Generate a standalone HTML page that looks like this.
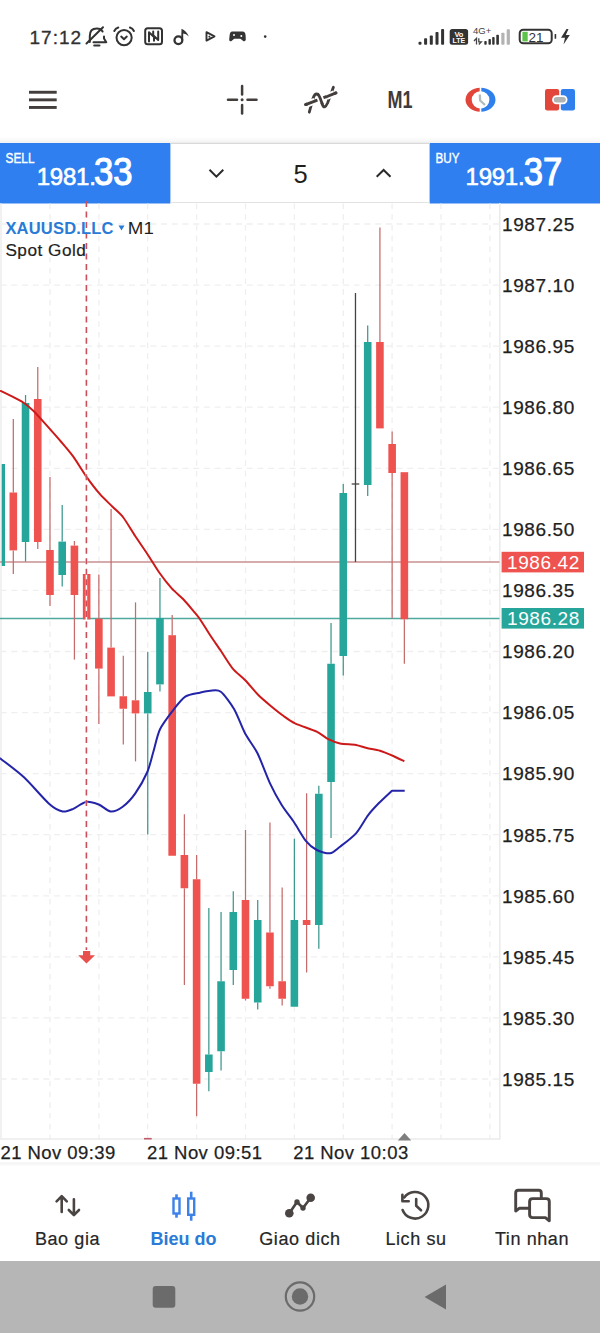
<!DOCTYPE html>
<html><head><meta charset="utf-8">
<style>
html,body{margin:0;padding:0;}
body{width:600px;height:1333px;position:relative;overflow:hidden;background:#fff;font-family:"Liberation Sans",sans-serif;}
svg{position:absolute;left:0;top:0;}
.pl{font-size:19px;fill:#1f1f1f;stroke:#1f1f1f;stroke-width:0.25px;letter-spacing:0.6px;}
.t{position:absolute;white-space:nowrap;line-height:1;}
</style></head><body>
<svg width="600" height="1333" viewBox="0 0 600 1333">
<!-- status bar -->
<text x="29.5" y="44.4" font-size="19" fill="#303030" stroke="#303030" stroke-width="0.3" letter-spacing="1">17:12</text>
<!-- toolbar -->
<g fill="#433d3c">
<rect x="29" y="90.8" width="27.7" height="2.9"/>
<rect x="29" y="98.4" width="27.7" height="2.9"/>
<rect x="29" y="106" width="27.7" height="2.9"/>
</g>
<g stroke="#433d3c" stroke-width="2.5" stroke-linecap="round">
<line x1="242.1" y1="86" x2="242.1" y2="94.5"/>
<line x1="242.1" y1="105" x2="242.1" y2="113.5"/>
<line x1="228" y1="99.8" x2="237" y2="99.8"/>
<line x1="247.5" y1="99.8" x2="256.5" y2="99.8"/>
</g>
<circle cx="242.1" cy="99.8" r="1.5" fill="#433d3c"/>
<text x="387.5" y="107.6" font-size="23.8" font-weight="bold" fill="#3f3b3a" textLength="25" lengthAdjust="spacingAndGlyphs">M1</text>

<!-- status icons -->
<g fill="none" stroke="#333" stroke-width="2" stroke-linecap="round" stroke-linejoin="round">
<path d="M89.8,42 L89.8,36 Q89.8,28.6 96.8,28.6 Q101,28.6 102.6,31.5"/>
<path d="M104,36.5 L104,38.5 L106.3,42.2 L93.5,42.2"/>
<line x1="86.5" y1="43.5" x2="103" y2="27.3"/>
<line x1="94.2" y1="45.4" x2="99.5" y2="45.4"/>
<circle cx="124.1" cy="37.6" r="7.6"/>
<path d="M114.3,31 Q115.5,28.3 118.3,27.5"/>
<path d="M129.9,27.5 Q132.7,28.3 133.9,31"/>
<polyline points="121.2,36.6 124,39.2 126.8,36.6"/>
<rect x="145.2" y="28.2" width="16.8" height="16" rx="2.5"/>
<path d="M149,41.5 L149,32.3 L154,37 L154,40.8 M153.2,31.5 L153.2,35.2 L158.2,40 L158.2,31.5"/>
</g>
<circle cx="178.4" cy="40.2" r="3.9" fill="none" stroke="#333" stroke-width="2.3"/>
<path d="M181.2,40 L181.5,28.8 Q186.5,31 188.8,36.5 Q186,33.5 183.2,33.5 L183.2,40 Z" fill="#333"/>
<path d="M206.5,32.2 L214.5,36.3 L206.5,40.6 Z M208.6,37 L210.2,36.3" fill="none" stroke="#333" stroke-width="1.9" stroke-linejoin="round"/>
<path d="M232.2,31.6 L242.5,31.6 Q245.4,31.8 245.6,35.5 L245.8,39.6 Q245.5,41.8 243.5,41.2 L240.5,38.7 L234.2,38.7 L231.2,41.2 Q229,41.8 229.2,39.6 L229.6,35.5 Q229.9,31.8 232.2,31.6 Z" fill="#333"/>
<circle cx="234" cy="35" r="1" fill="#fff"/><circle cx="241.3" cy="36" r="1" fill="#fff"/>
<circle cx="265.2" cy="36.6" r="1.3" fill="#333"/>
<g fill="#333">
<rect x="418.5" y="41.8" width="3" height="3" rx="1"/>
<rect x="424.1" y="38.3" width="3" height="6.5" rx="0.8"/>
<rect x="429.8" y="35.5" width="3" height="9.3" rx="0.8"/>
<rect x="435.5" y="31.9" width="3" height="12.9" rx="0.8"/>
<rect x="441.1" y="29.1" width="3" height="15.7" rx="0.8"/>
<rect x="449.7" y="29" width="18.4" height="15.7" rx="2.5"/>
<rect x="484.3" y="41" width="2.4" height="3.7" rx="0.8"/>
<rect x="488.5" y="39" width="2.4" height="5.7" rx="0.8"/>
<rect x="492.2" y="36.9" width="2.4" height="7.8" rx="0.8"/>
<rect x="496.3" y="34.7" width="2.6" height="10" rx="0.8"/>
</g>
<g fill="#b3b3b3">
<rect x="501.3" y="32.7" width="3.2" height="12" rx="0.8"/>
<rect x="506.7" y="29.3" width="3.2" height="15.4" rx="0.8"/>
</g>
<text x="458.9" y="36.5" font-size="7.5" font-weight="bold" fill="#fff" text-anchor="middle">Vo</text>
<text x="458.9" y="43.3" font-size="7" font-weight="bold" fill="#fff" text-anchor="middle">LTE</text>
<text x="473" y="34.2" font-size="9.5" fill="#444">4G+</text>
<path d="M474,41 L476.5,38.3 L476.5,44.5 M478.8,44.5 L481.3,41.8 L478.8,41.8 L478.8,38.3" fill="none" stroke="#444" stroke-width="1.3"/>
<rect x="519.7" y="29.7" width="32" height="13.6" rx="3.5" fill="none" stroke="#333" stroke-width="2"/>
<rect x="522.4" y="31.8" width="5.3" height="9.6" fill="#5cc24a"/>
<text x="528.5" y="41.8" font-size="13.5" fill="#333">21</text>
<rect x="554.6" y="34" width="1.6" height="4.8" rx="0.5" fill="#333"/>
<path d="M566.5,29 L561,37.8 L565,37.8 L563.5,44.5 L569.8,35 L565.8,35 L568.5,29 Z" fill="#333"/>
<!-- indicator icon -->
<g fill="none" stroke-linecap="butt">
<path d="M309.3,112.2 L313,98.5 Q316.2,89.5 320.3,98.5 L322.4,104.5 Q324.3,110 327.6,103 L333.4,87.2" stroke="#433d3c" stroke-width="2.8" stroke-linecap="round"/>
<line x1="305.6" y1="104.6" x2="336" y2="92.9" stroke="#433d3c" stroke-width="2.8" stroke-linecap="round"/>
<line x1="307.5" y1="103.9" x2="314.8" y2="101.1" stroke="#fff" stroke-width="6.5"/>
<line x1="305.6" y1="104.6" x2="314.8" y2="101.1" stroke="#433d3c" stroke-width="2.8" stroke-linecap="round"/>
<line x1="326.5" y1="96.7" x2="334.2" y2="93.6" stroke="#fff" stroke-width="6.5"/>
<line x1="326.5" y1="96.7" x2="336" y2="92.9" stroke="#433d3c" stroke-width="2.8" stroke-linecap="round"/>
<path d="M318.6,95.2 Q319.6,96.5 320.3,98.5 L321.8,102.8" stroke="#fff" stroke-width="6.5"/>
<path d="M317.5,93.6 Q319.2,95.5 320.3,98.5 L322.4,104.5" stroke="#433d3c" stroke-width="2.8"/>
</g>
<!-- clock icon -->
<defs>
<clipPath id="cl"><rect x="460" y="80" width="19.7" height="40"/></clipPath>
<clipPath id="cr"><rect x="481.3" y="80" width="19.7" height="40"/></clipPath>
</defs>
<path d="M465.5,99.8 a15,12 0 1,0 30,0 a15,12 0 1,0 -30,0 Z M471.7,99.8 a8.85,8.6 0 1,0 17.7,0 a8.85,8.6 0 1,0 -17.7,0 Z" fill="#e2453a" fill-rule="evenodd" clip-path="url(#cl)"/>
<path d="M465.5,99.8 a15,12 0 1,0 30,0 a15,12 0 1,0 -30,0 Z M471.7,99.8 a8.85,8.6 0 1,0 17.7,0 a8.85,8.6 0 1,0 -17.7,0 Z" fill="#2f80ed" fill-rule="evenodd" clip-path="url(#cr)"/>
<polyline points="479.8,94.5 480.2,100.5 485,105" fill="none" stroke="#b3bcbc" stroke-width="2.3"/>
<!-- link icon -->
<rect x="545" y="89" width="14.2" height="21.4" rx="2.2" fill="#e2453a"/>
<rect x="560.8" y="89" width="14.2" height="21.4" rx="2.2" fill="#2f80ed"/>
<rect x="552.1" y="95.3" width="15.4" height="8.9" rx="4.45" fill="#fff"/>
<rect x="553.8" y="97" width="12" height="5.5" rx="2.75" fill="#b0b4b4"/>
<!-- nav icons -->
<g fill="none" stroke="#4a4443" stroke-width="2.6" stroke-linecap="round" stroke-linejoin="round">
<path d="M61.7,1212 L61.7,1196.5 M56.6,1201.3 L61.7,1196.2 L66.8,1201.3"/>
<path d="M73.9,1199.3 L73.9,1214.8 M68.8,1210 L73.9,1215.1 L79,1210"/>
<polyline points="289.3,1213.3 297,1202 303,1208 310.7,1197.7"/>
<path d="M402.6,1210 A13.3,13.3 0 1,0 404.2,1197.5"/>
<path d="M402.4,1194.8 L402.4,1201.2 L408.7,1201.2"/>
<polyline points="416.2,1199 416.2,1205.8 421,1210.3"/>
</g>
<g fill="#4a4443"><circle cx="289.3" cy="1213.3" r="4.3"/><circle cx="297" cy="1202" r="2.7"/><circle cx="303" cy="1208" r="2.7"/><circle cx="310.7" cy="1197.7" r="4.3"/></g>
<g fill="none" stroke="#4a4443" stroke-width="2.9" stroke-linejoin="round">
<path d="M541.3,1198.4 L541.3,1193 Q541.3,1190.3 538.6,1190.3 L518.4,1190.3 Q515.7,1190.3 515.7,1193 L515.7,1211 L519.2,1208.3 L529,1208.3"/>
<path d="M532.6,1198.6 L546.3,1198.6 Q549.3,1198.6 549.3,1201.6 L549.3,1220.8 L545.4,1217.6 L532.6,1217.6 Q529.6,1217.6 529.6,1214.6 L529.6,1201.6 Q529.6,1198.6 532.6,1198.6 Z"/>
</g>
<g fill="none" stroke="#3d82e8" stroke-width="2.4">
<rect x="173.5" y="1198.5" width="6" height="15"/>
<rect x="188.2" y="1198.5" width="6" height="16.3"/>
</g>
<g stroke="#3d82e8" stroke-width="2.6">
<line x1="176.5" y1="1194.3" x2="176.5" y2="1198.5"/><line x1="176.5" y1="1213.5" x2="176.5" y2="1217.7"/>
<line x1="191.2" y1="1191.7" x2="191.2" y2="1198.5"/><line x1="191.2" y1="1214.8" x2="191.2" y2="1220.7"/>
</g>

<!-- sell / buy panel -->
<rect x="0" y="143" width="170.4" height="60.5" fill="#2f7ff0"/>
<rect x="429.6" y="143" width="170.4" height="60.5" fill="#2f7ff0"/>
<defs><linearGradient id="sh1" x1="0" y1="0" x2="0" y2="1"><stop offset="0" stop-color="#fff"/><stop offset="1" stop-color="#f2f2f2"/></linearGradient>
<linearGradient id="sh2" x1="0" y1="0" x2="0" y2="1"><stop offset="0" stop-color="#f0f0f0"/><stop offset="1" stop-color="#fff"/></linearGradient></defs>
<rect x="0" y="137" width="600" height="6" fill="url(#sh1)"/>
<rect x="0" y="1162.5" width="600" height="4" fill="url(#sh2)"/>
<line x1="170.4" y1="143.4" x2="429.6" y2="143.4" stroke="#d9d9d9" stroke-width="1.4"/>
<line x1="170.4" y1="202.5" x2="429.6" y2="202.5" stroke="#e2e2e2" stroke-width="1.2"/>
<text x="5.5" y="162.6" font-size="14.8" fill="#fff" stroke="#fff" stroke-width="0.4" textLength="29" lengthAdjust="spacingAndGlyphs">SELL</text>
<g fill="#fff" stroke="#fff"><text x="36.7" y="185.1" font-size="24" stroke-width="0.6" textLength="59.1">1981.</text><text x="94" y="185" font-size="39" stroke-width="1.2" textLength="38.5" lengthAdjust="spacingAndGlyphs">33</text></g>
<text x="435.5" y="162.6" font-size="14.8" fill="#fff" stroke="#fff" stroke-width="0.4" textLength="24" lengthAdjust="spacingAndGlyphs">BUY</text>
<g fill="#fff" stroke="#fff"><text x="465.6" y="185.1" font-size="24" stroke-width="0.6" textLength="59">1991.</text><text x="523.8" y="185" font-size="39" stroke-width="1.2" textLength="38.5" lengthAdjust="spacingAndGlyphs">37</text></g>
<text x="293.4" y="183.2" font-size="25.5" fill="#1f1f1f">5</text>
<polyline points="209.5,169.8 216.4,176.6 223.3,169.8" fill="none" stroke="#2a2a2a" stroke-width="2"/>
<polyline points="376.7,176.8 383.6,170 390.5,176.8" fill="none" stroke="#2a2a2a" stroke-width="2"/>
<line x1="0.6" y1="224.0" x2="503.5" y2="224.0" stroke="#efefef" stroke-width="1.3" stroke-dasharray="6 4.7"/>
<line x1="0.6" y1="285.1" x2="503.5" y2="285.1" stroke="#efefef" stroke-width="1.3" stroke-dasharray="6 4.7"/>
<line x1="0.6" y1="346.1" x2="503.5" y2="346.1" stroke="#efefef" stroke-width="1.3" stroke-dasharray="6 4.7"/>
<line x1="0.6" y1="407.2" x2="503.5" y2="407.2" stroke="#efefef" stroke-width="1.3" stroke-dasharray="6 4.7"/>
<line x1="0.6" y1="468.3" x2="503.5" y2="468.3" stroke="#efefef" stroke-width="1.3" stroke-dasharray="6 4.7"/>
<line x1="0.6" y1="529.4" x2="503.5" y2="529.4" stroke="#efefef" stroke-width="1.3" stroke-dasharray="6 4.7"/>
<line x1="0.6" y1="590.4" x2="503.5" y2="590.4" stroke="#efefef" stroke-width="1.3" stroke-dasharray="6 4.7"/>
<line x1="0.6" y1="651.5" x2="503.5" y2="651.5" stroke="#efefef" stroke-width="1.3" stroke-dasharray="6 4.7"/>
<line x1="0.6" y1="712.6" x2="503.5" y2="712.6" stroke="#efefef" stroke-width="1.3" stroke-dasharray="6 4.7"/>
<line x1="0.6" y1="773.6" x2="503.5" y2="773.6" stroke="#efefef" stroke-width="1.3" stroke-dasharray="6 4.7"/>
<line x1="0.6" y1="834.7" x2="503.5" y2="834.7" stroke="#efefef" stroke-width="1.3" stroke-dasharray="6 4.7"/>
<line x1="0.6" y1="895.8" x2="503.5" y2="895.8" stroke="#efefef" stroke-width="1.3" stroke-dasharray="6 4.7"/>
<line x1="0.6" y1="956.8" x2="503.5" y2="956.8" stroke="#efefef" stroke-width="1.3" stroke-dasharray="6 4.7"/>
<line x1="0.6" y1="1017.9" x2="503.5" y2="1017.9" stroke="#efefef" stroke-width="1.3" stroke-dasharray="6 4.7"/>
<line x1="0.6" y1="1079.0" x2="503.5" y2="1079.0" stroke="#efefef" stroke-width="1.3" stroke-dasharray="6 4.7"/>
<line x1="1" y1="203.5" x2="1" y2="1139" stroke="#f1f1f1" stroke-width="2"/>
<line x1="50.0" y1="203.5" x2="50.0" y2="1139" stroke="#efefef" stroke-width="1.3" stroke-dasharray="5.6 5.1"/>
<line x1="98.9" y1="203.5" x2="98.9" y2="1139" stroke="#efefef" stroke-width="1.3" stroke-dasharray="5.6 5.1"/>
<line x1="147.7" y1="203.5" x2="147.7" y2="1139" stroke="#efefef" stroke-width="1.3" stroke-dasharray="5.6 5.1"/>
<line x1="196.6" y1="203.5" x2="196.6" y2="1139" stroke="#efefef" stroke-width="1.3" stroke-dasharray="5.6 5.1"/>
<line x1="245.5" y1="203.5" x2="245.5" y2="1139" stroke="#efefef" stroke-width="1.3" stroke-dasharray="5.6 5.1"/>
<line x1="294.4" y1="203.5" x2="294.4" y2="1139" stroke="#efefef" stroke-width="1.3" stroke-dasharray="5.6 5.1"/>
<line x1="343.3" y1="203.5" x2="343.3" y2="1139" stroke="#efefef" stroke-width="1.3" stroke-dasharray="5.6 5.1"/>
<line x1="392.1" y1="203.5" x2="392.1" y2="1139" stroke="#efefef" stroke-width="1.3" stroke-dasharray="5.6 5.1"/>
<line x1="441.0" y1="203.5" x2="441.0" y2="1139" stroke="#efefef" stroke-width="1.3" stroke-dasharray="5.6 5.1"/>
<line x1="489.9" y1="203.5" x2="489.9" y2="1139" stroke="#efefef" stroke-width="1.3" stroke-dasharray="5.6 5.1"/>
<line x1="499.8" y1="203" x2="499.8" y2="1139.5" stroke="#ebebeb" stroke-width="1.6"/>
<line x1="0" y1="1139" x2="500" y2="1139" stroke="#ebebeb" stroke-width="1.6"/>
<line x1="0" y1="562" x2="499.5" y2="562" stroke="#c98f8f" stroke-width="1.6"/>
<line x1="0" y1="618.6" x2="499.5" y2="618.6" stroke="#4ea99e" stroke-width="1.5"/>
<line x1="13.32" y1="419" x2="13.32" y2="492.5" stroke="#c46c6c" stroke-width="1.25"/>
<line x1="13.32" y1="550.4" x2="13.32" y2="574" stroke="#c46c6c" stroke-width="1.25"/>
<rect x="9.52" y="492.5" width="7.6" height="57.90" fill="#ef5350"/>
<line x1="25.54" y1="395" x2="25.54" y2="403" stroke="#3a988d" stroke-width="1.25"/>
<line x1="25.54" y1="542" x2="25.54" y2="561.6" stroke="#3a988d" stroke-width="1.25"/>
<rect x="21.74" y="403" width="7.6" height="139.00" fill="#26a69a"/>
<line x1="37.76" y1="367" x2="37.76" y2="399" stroke="#c46c6c" stroke-width="1.25"/>
<line x1="37.76" y1="542" x2="37.76" y2="549" stroke="#c46c6c" stroke-width="1.25"/>
<rect x="33.96" y="399" width="7.6" height="143.00" fill="#ef5350"/>
<line x1="49.98" y1="477" x2="49.98" y2="550" stroke="#c46c6c" stroke-width="1.25"/>
<line x1="49.98" y1="595" x2="49.98" y2="606" stroke="#c46c6c" stroke-width="1.25"/>
<rect x="46.18" y="550" width="7.6" height="45.00" fill="#ef5350"/>
<line x1="62.20" y1="505" x2="62.20" y2="541.6" stroke="#3a988d" stroke-width="1.25"/>
<line x1="62.20" y1="575" x2="62.20" y2="586.4" stroke="#3a988d" stroke-width="1.25"/>
<rect x="58.40" y="541.6" width="7.6" height="33.40" fill="#26a69a"/>
<line x1="74.42" y1="541" x2="74.42" y2="545.6" stroke="#c46c6c" stroke-width="1.25"/>
<line x1="74.42" y1="595" x2="74.42" y2="659.6" stroke="#c46c6c" stroke-width="1.25"/>
<rect x="70.62" y="545.6" width="7.6" height="49.40" fill="#ef5350"/>
<rect x="82.84" y="574" width="7.6" height="45.40" fill="#ef5350"/>
<line x1="98.86" y1="574.4" x2="98.86" y2="618.6" stroke="#c46c6c" stroke-width="1.25"/>
<line x1="98.86" y1="668.6" x2="98.86" y2="724" stroke="#c46c6c" stroke-width="1.25"/>
<rect x="95.06" y="618.6" width="7.6" height="50.00" fill="#ef5350"/>
<line x1="111.08" y1="509" x2="111.08" y2="647.6" stroke="#c46c6c" stroke-width="1.25"/>
<rect x="107.28" y="647.6" width="7.6" height="48.80" fill="#ef5350"/>
<line x1="123.30" y1="655.75" x2="123.30" y2="696.25" stroke="#c46c6c" stroke-width="1.25"/>
<line x1="123.30" y1="708.75" x2="123.30" y2="744.5" stroke="#c46c6c" stroke-width="1.25"/>
<rect x="119.50" y="696.25" width="7.6" height="12.50" fill="#ef5350"/>
<line x1="135.52" y1="602.4" x2="135.52" y2="700.3" stroke="#c46c6c" stroke-width="1.25"/>
<line x1="135.52" y1="713.4" x2="135.52" y2="761.4" stroke="#c46c6c" stroke-width="1.25"/>
<rect x="131.72" y="700.3" width="7.6" height="13.10" fill="#ef5350"/>
<line x1="147.74" y1="651.8" x2="147.74" y2="692" stroke="#3a988d" stroke-width="1.25"/>
<line x1="147.74" y1="713.4" x2="147.74" y2="834.5" stroke="#3a988d" stroke-width="1.25"/>
<rect x="143.94" y="692" width="7.6" height="21.40" fill="#26a69a"/>
<line x1="159.96" y1="578.1" x2="159.96" y2="618.1" stroke="#3a988d" stroke-width="1.25"/>
<line x1="159.96" y1="684.4" x2="159.96" y2="691.4" stroke="#3a988d" stroke-width="1.25"/>
<rect x="156.16" y="618.1" width="7.6" height="66.30" fill="#26a69a"/>
<line x1="172.18" y1="615" x2="172.18" y2="635.2" stroke="#c46c6c" stroke-width="1.25"/>
<rect x="168.38" y="635.2" width="7.6" height="220.55" fill="#ef5350"/>
<line x1="184.40" y1="814.25" x2="184.40" y2="855" stroke="#c46c6c" stroke-width="1.25"/>
<line x1="184.40" y1="888.25" x2="184.40" y2="985" stroke="#c46c6c" stroke-width="1.25"/>
<rect x="180.60" y="855" width="7.6" height="33.25" fill="#ef5350"/>
<line x1="196.62" y1="855" x2="196.62" y2="879.25" stroke="#c46c6c" stroke-width="1.25"/>
<line x1="196.62" y1="1083.75" x2="196.62" y2="1116.25" stroke="#c46c6c" stroke-width="1.25"/>
<rect x="192.82" y="879.25" width="7.6" height="204.50" fill="#ef5350"/>
<line x1="208.84" y1="908" x2="208.84" y2="1054.5" stroke="#3a988d" stroke-width="1.25"/>
<line x1="208.84" y1="1072" x2="208.84" y2="1091.25" stroke="#3a988d" stroke-width="1.25"/>
<rect x="205.04" y="1054.5" width="7.6" height="17.50" fill="#26a69a"/>
<line x1="221.06" y1="912" x2="221.06" y2="981.25" stroke="#3a988d" stroke-width="1.25"/>
<line x1="221.06" y1="1051.25" x2="221.06" y2="1070.5" stroke="#3a988d" stroke-width="1.25"/>
<rect x="217.26" y="981.25" width="7.6" height="70.00" fill="#26a69a"/>
<line x1="233.28" y1="891.25" x2="233.28" y2="912" stroke="#3a988d" stroke-width="1.25"/>
<line x1="233.28" y1="970" x2="233.28" y2="985" stroke="#3a988d" stroke-width="1.25"/>
<rect x="229.48" y="912" width="7.6" height="58.00" fill="#26a69a"/>
<line x1="245.50" y1="830" x2="245.50" y2="900" stroke="#c46c6c" stroke-width="1.25"/>
<line x1="245.50" y1="998.75" x2="245.50" y2="1000.5" stroke="#c46c6c" stroke-width="1.25"/>
<rect x="241.70" y="900" width="7.6" height="98.75" fill="#ef5350"/>
<line x1="257.72" y1="900" x2="257.72" y2="920" stroke="#3a988d" stroke-width="1.25"/>
<line x1="257.72" y1="1002.5" x2="257.72" y2="1009.5" stroke="#3a988d" stroke-width="1.25"/>
<rect x="253.92" y="920" width="7.6" height="82.50" fill="#26a69a"/>
<line x1="269.94" y1="822.5" x2="269.94" y2="932.5" stroke="#c46c6c" stroke-width="1.25"/>
<line x1="269.94" y1="986.25" x2="269.94" y2="988.75" stroke="#c46c6c" stroke-width="1.25"/>
<rect x="266.14" y="932.5" width="7.6" height="53.75" fill="#ef5350"/>
<line x1="282.16" y1="887.5" x2="282.16" y2="981.25" stroke="#c46c6c" stroke-width="1.25"/>
<line x1="282.16" y1="998.75" x2="282.16" y2="1005.5" stroke="#c46c6c" stroke-width="1.25"/>
<rect x="278.36" y="981.25" width="7.6" height="17.50" fill="#ef5350"/>
<line x1="294.38" y1="838.75" x2="294.38" y2="920" stroke="#3a988d" stroke-width="1.25"/>
<rect x="290.58" y="920" width="7.6" height="86.75" fill="#26a69a"/>
<line x1="306.60" y1="793.25" x2="306.60" y2="920" stroke="#c46c6c" stroke-width="1.25"/>
<line x1="306.60" y1="925" x2="306.60" y2="972.5" stroke="#c46c6c" stroke-width="1.25"/>
<rect x="302.80" y="920" width="7.6" height="5.00" fill="#ef5350"/>
<line x1="318.82" y1="785.75" x2="318.82" y2="793.75" stroke="#3a988d" stroke-width="1.25"/>
<line x1="318.82" y1="925" x2="318.82" y2="948.75" stroke="#3a988d" stroke-width="1.25"/>
<rect x="315.02" y="793.75" width="7.6" height="131.25" fill="#26a69a"/>
<line x1="331.04" y1="623" x2="331.04" y2="663.75" stroke="#3a988d" stroke-width="1.25"/>
<line x1="331.04" y1="782" x2="331.04" y2="838" stroke="#3a988d" stroke-width="1.25"/>
<rect x="327.24" y="663.75" width="7.6" height="118.25" fill="#26a69a"/>
<line x1="343.26" y1="484" x2="343.26" y2="493" stroke="#3a988d" stroke-width="1.25"/>
<line x1="343.26" y1="656" x2="343.26" y2="675.6" stroke="#3a988d" stroke-width="1.25"/>
<rect x="339.46" y="493" width="7.6" height="163.00" fill="#26a69a"/>
<line x1="367.70" y1="325.6" x2="367.70" y2="342" stroke="#3a988d" stroke-width="1.25"/>
<line x1="367.70" y1="485" x2="367.70" y2="496" stroke="#3a988d" stroke-width="1.25"/>
<rect x="363.90" y="342" width="7.6" height="143.00" fill="#26a69a"/>
<line x1="379.92" y1="227.6" x2="379.92" y2="342" stroke="#c46c6c" stroke-width="1.25"/>
<rect x="376.12" y="342" width="7.6" height="86.40" fill="#ef5350"/>
<line x1="392.14" y1="431.6" x2="392.14" y2="444" stroke="#c46c6c" stroke-width="1.25"/>
<line x1="392.14" y1="473" x2="392.14" y2="618.4" stroke="#c46c6c" stroke-width="1.25"/>
<rect x="388.34" y="444" width="7.6" height="29.00" fill="#ef5350"/>
<line x1="404.36" y1="619.2" x2="404.36" y2="663.7" stroke="#c46c6c" stroke-width="1.25"/>
<rect x="400.56" y="472.2" width="7.6" height="147.00" fill="#ef5350"/>
<rect x="1.7" y="464" width="3.3" height="102" fill="#26a69a"/>
<line x1="355.48" y1="293" x2="355.48" y2="562" stroke="#444" stroke-width="1.3"/>
<line x1="351.68" y1="484" x2="359.28" y2="484" stroke="#444" stroke-width="1.3"/>
<path d="M0.00,390.80 C0.23,390.87 0.03,390.51 1.70,391.30 C3.37,392.09 9.62,395.21 12.50,396.70 C15.38,398.19 20.53,400.62 23.30,402.50 C26.07,404.38 30.63,408.24 33.30,410.80 C35.97,413.36 39.51,417.47 43.30,421.70 C47.09,425.93 57.70,437.83 61.70,442.50 C65.70,447.17 70.09,452.26 73.30,456.70 C76.51,461.14 82.24,470.80 85.80,475.80 C89.36,480.80 96.44,490.08 100.00,494.20 C103.56,498.32 109.39,503.59 112.50,506.70 C115.61,509.81 120.30,513.62 123.30,517.50 C126.30,521.38 131.77,530.91 135.00,535.80 C138.23,540.69 144.27,549.31 147.50,554.20 C150.73,559.09 155.97,567.95 159.20,572.50 C162.43,577.05 168.49,584.74 171.70,588.30 C174.91,591.86 180.42,596.20 183.30,599.20 C186.18,602.20 191.07,608.13 193.30,610.80 C195.53,613.47 197.77,615.97 200.00,619.20 C202.23,622.43 207.23,630.79 210.00,635.00 C212.77,639.21 217.80,646.36 220.80,650.80 C223.80,655.24 229.27,664.41 232.50,668.30 C235.73,672.19 241.56,676.44 245.00,680.00 C248.44,683.56 254.74,691.44 258.30,695.00 C261.86,698.56 268.37,703.93 271.70,706.70 C275.03,709.47 280.19,713.59 283.30,715.80 C286.41,718.01 290.55,721.18 295.00,723.30 C299.45,725.42 312.26,729.58 316.70,731.70 C321.14,733.82 325.19,737.63 328.30,739.20 C331.41,740.77 336.31,742.74 340.00,743.50 C343.69,744.26 352.44,744.30 356.00,744.90 C359.56,745.50 363.50,747.23 366.70,748.00 C369.90,748.77 376.45,749.63 380.00,750.70 C383.55,751.77 390.06,754.59 393.30,756.00 C396.54,757.41 402.83,760.59 404.30,761.30" fill="none" stroke="#cc1a1a" stroke-width="2" stroke-linejoin="round"/>
<path d="M0.00,758.50 C0.17,758.59 -1.90,756.69 1.30,759.20 C4.50,761.71 17.60,771.33 24.00,777.30 C30.40,783.27 44.14,799.44 49.30,804.00 C54.46,808.56 59.50,810.86 62.70,811.50 C65.90,812.14 70.21,810.08 73.30,808.80 C76.39,807.52 82.51,802.47 85.90,801.90 C89.29,801.33 95.39,803.22 98.70,804.50 C102.01,805.78 107.50,811.21 110.70,811.50 C113.90,811.79 119.42,809.13 122.70,806.70 C125.98,804.27 132.02,797.93 135.30,793.30 C138.58,788.67 144.90,777.51 147.30,772.00 C149.70,766.49 151.61,757.69 153.30,752.00 C154.99,746.31 157.33,734.90 160.00,729.30 C162.67,723.70 169.93,714.35 173.30,710.00 C176.67,705.65 181.74,699.01 185.30,696.70 C188.86,694.39 196.71,693.49 200.00,692.70 C203.29,691.91 207.23,690.93 210.00,690.80 C212.77,690.67 217.57,689.25 220.80,691.70 C224.03,694.15 230.97,703.65 234.20,709.20 C237.43,714.75 241.89,727.42 245.00,733.30 C248.11,739.18 254.17,746.63 257.50,753.30 C260.83,759.97 266.77,776.41 270.00,783.30 C273.23,790.19 278.47,799.77 281.70,805.00 C284.93,810.23 290.99,817.73 294.20,822.50 C297.41,827.27 302.80,837.13 305.80,840.80 C308.80,844.47 313.47,848.33 316.70,850.00 C319.93,851.67 326.89,853.74 330.00,853.30 C333.11,852.86 336.53,849.37 340.00,846.70 C343.47,844.03 352.27,837.49 356.00,833.30 C359.73,829.11 364.97,819.30 368.00,815.30 C371.03,811.30 375.50,806.58 378.70,803.30 C381.90,800.02 390.23,792.38 392.00,790.70 L404.7,790.7" fill="none" stroke="#2424a8" stroke-width="2" stroke-linejoin="round"/>
<line x1="86.4" y1="203.5" x2="86.4" y2="950" stroke="#fff" stroke-width="1.6"/><line x1="86.4" y1="201" x2="86.4" y2="950" stroke="#c9505a" stroke-width="1.6" stroke-dasharray="6 4.51"/>
<polygon points="83,951 90.2,951 90.2,955.3 95,955.3 86.5,963.5 78.2,955.3 83,955.3" fill="#e8504d"/>
<line x1="144" y1="1138.7" x2="151.7" y2="1138.7" stroke="#c05a6a" stroke-width="1.6"/>
<polygon points="397.8,1140.5 411.2,1140.5 404.5,1133" fill="#7f7f7f"/>
<!-- chart header -->
<text x="5.4" y="233.5" font-size="16.5" font-weight="bold" fill="#2a7bd6" letter-spacing="0.2">XAUUSD.LLC</text>
<polygon points="118.5,225.5 124.5,225.5 121.5,230.5" fill="#2a7bd6"/>
<text x="127.8" y="233.5" font-size="17" fill="#1f1f1f" textLength="26" lengthAdjust="spacingAndGlyphs">M1</text>
<text x="5.4" y="255.6" font-size="17.2" fill="#1f1f1f" stroke="#1f1f1f" stroke-width="0.2" letter-spacing="0.5">Spot Gold</text>
<text x="502" y="230.8" class="pl">1987.25</text>
<text x="502" y="291.9" class="pl">1987.10</text>
<text x="502" y="352.9" class="pl">1986.95</text>
<text x="502" y="414.0" class="pl">1986.80</text>
<text x="502" y="475.1" class="pl">1986.65</text>
<text x="502" y="536.1" class="pl">1986.50</text>
<text x="502" y="597.2" class="pl">1986.35</text>
<text x="502" y="658.3" class="pl">1986.20</text>
<text x="502" y="719.4" class="pl">1986.05</text>
<text x="502" y="780.4" class="pl">1985.90</text>
<text x="502" y="841.5" class="pl">1985.75</text>
<text x="502" y="902.6" class="pl">1985.60</text>
<text x="502" y="963.6" class="pl">1985.45</text>
<text x="502" y="1024.7" class="pl">1985.30</text>
<text x="502" y="1085.8" class="pl">1985.15</text>
<rect x="501.6" y="551.8" width="82.4" height="20.6" fill="#ef5350"/>
<text x="507" y="569" font-size="19" fill="#fff" letter-spacing="0.6">1986.42</text>
<rect x="501.6" y="608" width="82.4" height="20.6" fill="#26a69a"/>
<text x="507" y="625.4" font-size="19" fill="#fff" letter-spacing="0.6">1986.28</text>
<!-- time labels -->
<text x="0.4" y="1159.3" font-size="18.5" fill="#1f1f1f" stroke="#1f1f1f" stroke-width="0.25" letter-spacing="0.45">21 Nov 09:39</text>
<text x="147" y="1159.3" font-size="18.5" fill="#1f1f1f" stroke="#1f1f1f" stroke-width="0.25" letter-spacing="0.45">21 Nov 09:51</text>
<text x="293.2" y="1159.3" font-size="18.5" fill="#1f1f1f" stroke="#1f1f1f" stroke-width="0.25" letter-spacing="0.45">21 Nov 10:03</text>
<!-- bottom nav -->
<text x="67.5" y="1245" font-size="18" fill="#262626" stroke="#262626" stroke-width="0.2" text-anchor="middle" letter-spacing="0.6">Bao gia</text>
<text x="183.4" y="1245" font-size="18" font-weight="bold" fill="#2a7bd6" text-anchor="middle">Bieu do</text>
<text x="300" y="1245" font-size="18" fill="#262626" stroke="#262626" stroke-width="0.2" text-anchor="middle" letter-spacing="0.6">Giao dich</text>
<text x="416" y="1245" font-size="18" fill="#262626" stroke="#262626" stroke-width="0.2" text-anchor="middle" letter-spacing="0.6">Lich su</text>
<text x="532" y="1245" font-size="18" fill="#262626" stroke="#262626" stroke-width="0.2" text-anchor="middle" letter-spacing="0.6">Tin nhan</text>
<rect x="0" y="1261" width="600" height="72" fill="#b6b6b6"/>
<rect x="152.7" y="1286" width="22.6" height="21.7" rx="3" fill="#6b6b6b"/>
<circle cx="300" cy="1296.5" r="14.2" fill="none" stroke="#6b6b6b" stroke-width="2.2"/>
<circle cx="300" cy="1296.5" r="8.2" fill="#6b6b6b"/>
<polygon points="446,1284.5 446,1309.4 424.6,1297" fill="#6b6b6b"/>
</svg>
</body></html>
